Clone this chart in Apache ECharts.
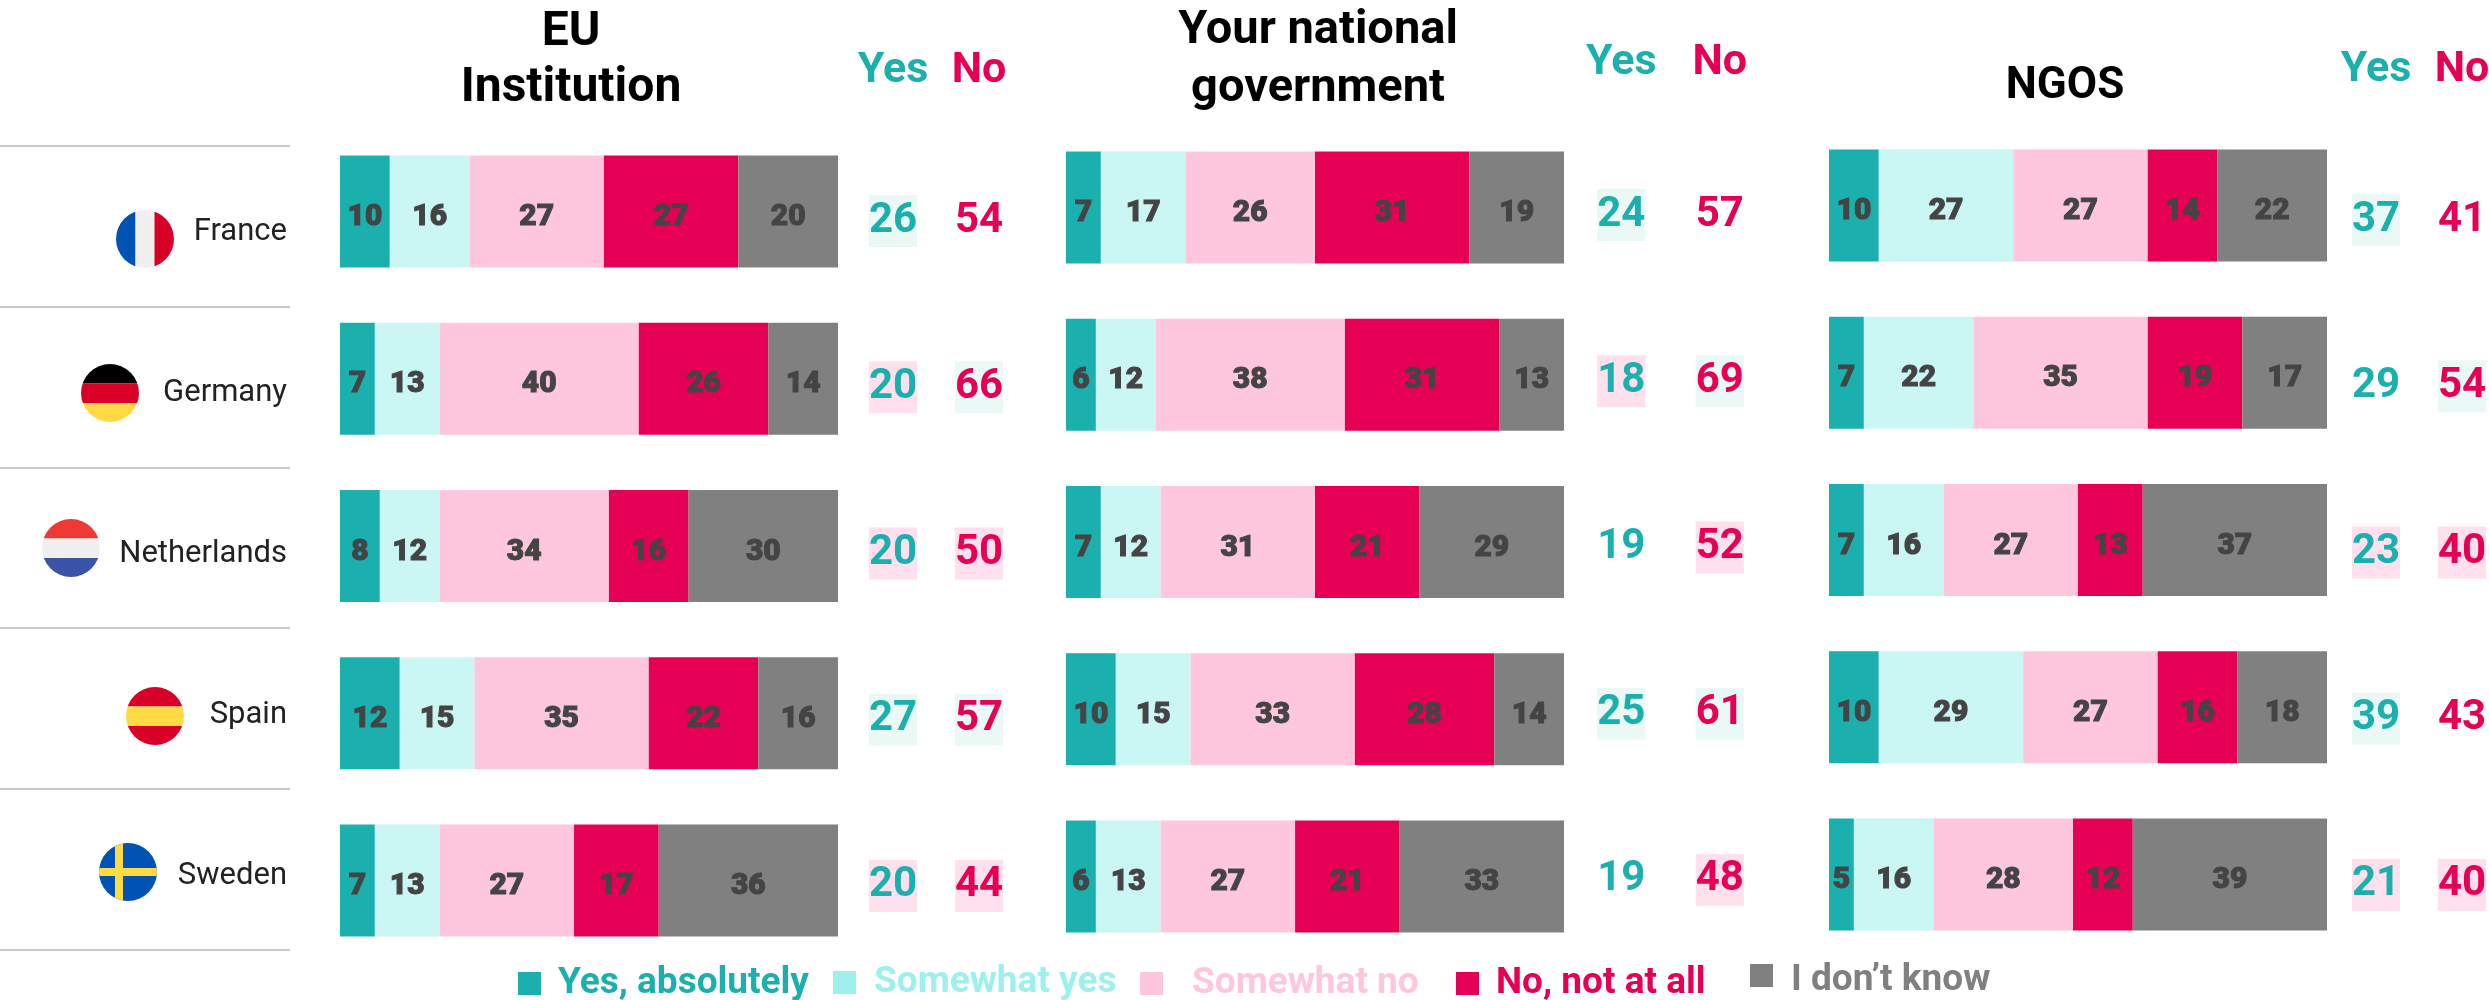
<!DOCTYPE html>
<html>
<head>
<meta charset="utf-8">
<style>html,body{margin:0;background:#fff}#main{width:2489px;height:1000px}</style>
<script src="https://cdn.jsdelivr.net/npm/echarts@6/dist/echarts.min.js"></script>
</head>
<body>
<div id="main"></div>
<script>
var countries = ['France', 'Germany', 'Netherlands', 'Spain', 'Sweden'];
var answers = ['Yes, absolutely', 'Somewhat yes', 'Somewhat no', 'No, not at all', "I don\u2019t know"];

// one list per answer, one value per country
var euAbs = [10, 7, 8, 12, 7];
var euSomeYes = [16, 13, 12, 15, 13];
var euSomeNo = [27, 40, 34, 35, 27];
var euNot = [27, 26, 16, 22, 17];
var euDk = [20, 14, 30, 16, 36];
var euYes = [26, 20, 20, 27, 20];
var euNo = [54, 66, 50, 57, 44];
var euYesMark = ['m', 'p', 'p', 'm', 'p'];
var euNoMark = ['', 'm', 'p', 'm', 'p'];

var natAbs = [7, 6, 7, 10, 6];
var natSomeYes = [17, 12, 12, 15, 13];
var natSomeNo = [26, 38, 31, 33, 27];
var natNot = [31, 31, 21, 28, 21];
var natDk = [19, 13, 29, 14, 33];
var natYes = [24, 18, 19, 25, 19];
var natNo = [57, 69, 52, 61, 48];
var natYesMark = ['m', 'p', '', 'm', ''];
var natNoMark = ['', 'm', 'p', 'm', 'p'];

var ngoAbs = [10, 7, 7, 10, 5];
var ngoSomeYes = [27, 22, 16, 29, 16];
var ngoSomeNo = [27, 35, 27, 27, 28];
var ngoNot = [14, 19, 13, 16, 12];
var ngoDk = [22, 17, 37, 18, 39];
var ngoYes = [37, 29, 23, 39, 21];
var ngoNo = [41, 54, 40, 43, 40];
var ngoYesMark = ['m', '', 'p', 'm', 'p'];
var ngoNoMark = ['', 'm', 'p', '', 'p'];

var FONT = 'Roboto';
var TEAL = '#1bafad', RED = '#e50055';
var barColors = [TEAL, '#caf6f4', '#ffc7dd', RED, '#808080'];
var legendColors = [TEAL, '#9df0ec', '#ffc7dd', RED, '#808080'];
var markColors = { m: '#ebf9f6', p: '#ffe0ec', '': 'transparent' };

var panels = [
    { title: 'EU\nInstitution', cx: 566, titleTop: 0, titleSize: 48, titleLine: 56, left: 340, width: 498, top: 128, rows: [euAbs, euSomeYes, euSomeNo, euNot, euDk],
      sideLeft: 850, sideWidth: 172, sideTop: 138, sideMargin: 45, yes: euYes, no: euNo, yesMark: euYesMark, noMark: euNoMark },
    { title: 'Your national\ngovernment', cx: 1313, titleTop: -3, titleSize: 47, titleLine: 58, left: 1066, width: 498, top: 124, rows: [natAbs, natSomeYes, natSomeNo, natNot, natDk],
      sideLeft: 1572, sideWidth: 197, sideTop: 132, sideMargin: 47, yes: natYes, no: natNo, yesMark: natYesMark, noMark: natNoMark },
    { title: 'NGOS', cx: 2060, titleTop: 53, titleSize: 44, titleLine: 58, left: 1829, width: 498, top: 122, rows: [ngoAbs, ngoSomeYes, ngoSomeNo, ngoNot, ngoDk],
      sideLeft: 2333, sideWidth: 172, sideTop: 137, sideMargin: 45, yes: ngoYes, no: ngoNo, yesMark: ngoYesMark, noMark: ngoNoMark }
];

var grid = [], xAxis = [], yAxis = [], series = [], title = [];

panels.forEach(function (p, i) {
    title.push({
        text: p.title, left: p.cx, top: p.titleTop, textAlign: 'center',
        textStyle: { fontFamily: FONT, fontSize: p.titleSize, fontWeight: 700, color: '#000', lineHeight: p.titleLine }
    });

    // stacked bars
    grid.push({ left: p.left, width: p.width, top: p.top, height: 836, outerBoundsMode: 'none' });
    xAxis.push({ gridIndex: i * 2, type: 'value', min: 0, max: 100, show: false });
    yAxis.push({ gridIndex: i * 2, type: 'category', inverse: true, data: countries, show: false });
    answers.forEach(function (name, a) {
        series.push({
            name: name, type: 'bar', stack: 'p' + i, xAxisIndex: i * 2, yAxisIndex: i * 2,
            barWidth: 112, data: p.rows[a], itemStyle: { color: barColors[a] },
            label: {
                show: true, position: 'inside', offset: [0, 6], color: '#444', fontFamily: FONT, fontSize: 30, fontWeight: 900,
                textBorderColor: '#444', textBorderWidth: 1
            }
        });
    });

    // Yes / No columns
    grid.push({ left: p.sideLeft, width: p.sideWidth, top: p.sideTop, height: 831, outerBoundsMode: 'none' });
    xAxis.push({
        gridIndex: i * 2 + 1, type: 'category', position: 'top',
        data: [{ value: 'Yes', textStyle: { color: TEAL } }, { value: 'No', textStyle: { color: RED } }],
        axisLine: { show: false }, axisTick: { show: false },
        axisLabel: { interval: 0, showMaxLabel: true, hideOverlap: false, margin: p.sideMargin, fontFamily: FONT, fontSize: 43, fontWeight: 700 }
    });
    yAxis.push({ gridIndex: i * 2 + 1, type: 'category', inverse: true, data: countries, show: false });
    [['Yes', p.yes, p.yesMark, TEAL], ['No', p.no, p.noMark, RED]].forEach(function (col) {
        series.push({
            type: 'scatter', xAxisIndex: i * 2 + 1, yAxisIndex: i * 2 + 1, symbolSize: 1, silent: true,
            itemStyle: { color: 'transparent', opacity: 1 },
            data: col[1].map(function (v, r) {
                return {
                    value: [col[0], countries[r], v],
                    label: { backgroundColor: markColors[col[2][r]] }
                };
            }),
            label: {
                show: true, position: 'inside', color: col[3], opacity: 1, fontFamily: FONT, fontSize: 42, fontWeight: 700,
                padding: [6, 0, 4, 0], formatter: function (d) { return d.value[2]; }
            }
        });
    });
});

// country names sit on their own row spacing
grid.push({ left: 287, width: 10, top: 152, height: 805, outerBoundsMode: 'none' });
xAxis.push({ gridIndex: 6, type: 'value', show: false });
yAxis.push({
    gridIndex: 6, type: 'category', inverse: true, data: countries,
    axisLine: { show: false }, axisTick: { show: false },
    axisLabel: { margin: 0, fontFamily: FONT, fontSize: 31, color: '#222', letterSpacing: 1 }
});

// legend entries are spaced unevenly in the source, the last square sits higher than its text
var legendLeft = [518, 833, 1140, 1456, 1750];
var legendTop = [965, 964, 965, 965, 962];
var legendGap = [12, 13, 24, 12, 13];
var legendIcon = ['rect', 'rect', 'rect', 'rect', 'path://M0,0H23V23H0ZM0,33L23,33Z'];
var legendIconHeight = [23, 23, 23, 23, 33];
var legend = answers.map(function (name, a) {
    return {
        left: legendLeft[a], top: legendTop[a], padding: 0, itemWidth: 23, itemHeight: legendIconHeight[a], itemGap: 0, selectedMode: false,
        data: [{ name: name, icon: legendIcon[a], itemStyle: { color: legendColors[a] }, textStyle: { color: legendColors[a] } }],
        textStyle: { fontFamily: FONT, fontSize: 37, fontWeight: 700, padding: [0, 0, 0, legendGap[a]] }
    };
});

function flagSvg(body) {
    return 'data:image/svg+xml,' + encodeURIComponent(
        '<svg xmlns="http://www.w3.org/2000/svg" width="116" height="116" viewBox="0 0 116 116">' +
        '<clipPath id="c"><circle cx="58" cy="58" r="58"/></clipPath><g clip-path="url(#c)">' + body + '</g></svg>');
}
function hStripes(a, b, c) {
    return '<rect width="116" height="39" fill="' + a + '"/><rect y="39" width="116" height="39" fill="' + b + '"/>' +
        '<rect y="78" width="116" height="38" fill="' + c + '"/>';
}
var flags = [
    { cx: 145, cy: 239, svg: '<rect width="39" height="116" fill="#0052b4"/><rect x="39" width="38" height="116" fill="#f0f0f0"/><rect x="77" width="39" height="116" fill="#d80027"/>' },
    { cx: 110, cy: 393, svg: hStripes('#000', '#d80027', '#ffda44') },
    { cx: 71, cy: 548, svg: hStripes('#ee3a33', '#f0f0f0', '#3a54a8') },
    { cx: 155, cy: 716, svg: hStripes('#d80027', '#ffda44', '#d80027') },
    { cx: 128, cy: 872, svg: '<rect width="116" height="116" fill="#0052b4"/><rect x="32" width="16" height="116" fill="#ffda44"/><rect y="50" width="116" height="16" fill="#ffda44"/>' }
];

var graphic = [];
[146, 307, 468, 628, 789, 950].forEach(function (y) {
    graphic.push({ type: 'line', shape: { x1: 0, y1: y, x2: 290, y2: y }, style: { stroke: '#c8c8c8', lineWidth: 2 } });
});
flags.forEach(function (f) {
    graphic.push({ type: 'image', x: f.cx - 29, y: f.cy - 29, style: { image: flagSvg(f.svg), width: 58, height: 58 } });
});

var myChart = echarts.init(document.getElementById('main'));
myChart.setOption({
    animation: false,
    backgroundColor: '#fff',
    title: title,
    grid: grid,
    xAxis: xAxis,
    yAxis: yAxis,
    legend: legend,
    graphic: graphic,
    series: series
});
</script>
</body>
</html>
